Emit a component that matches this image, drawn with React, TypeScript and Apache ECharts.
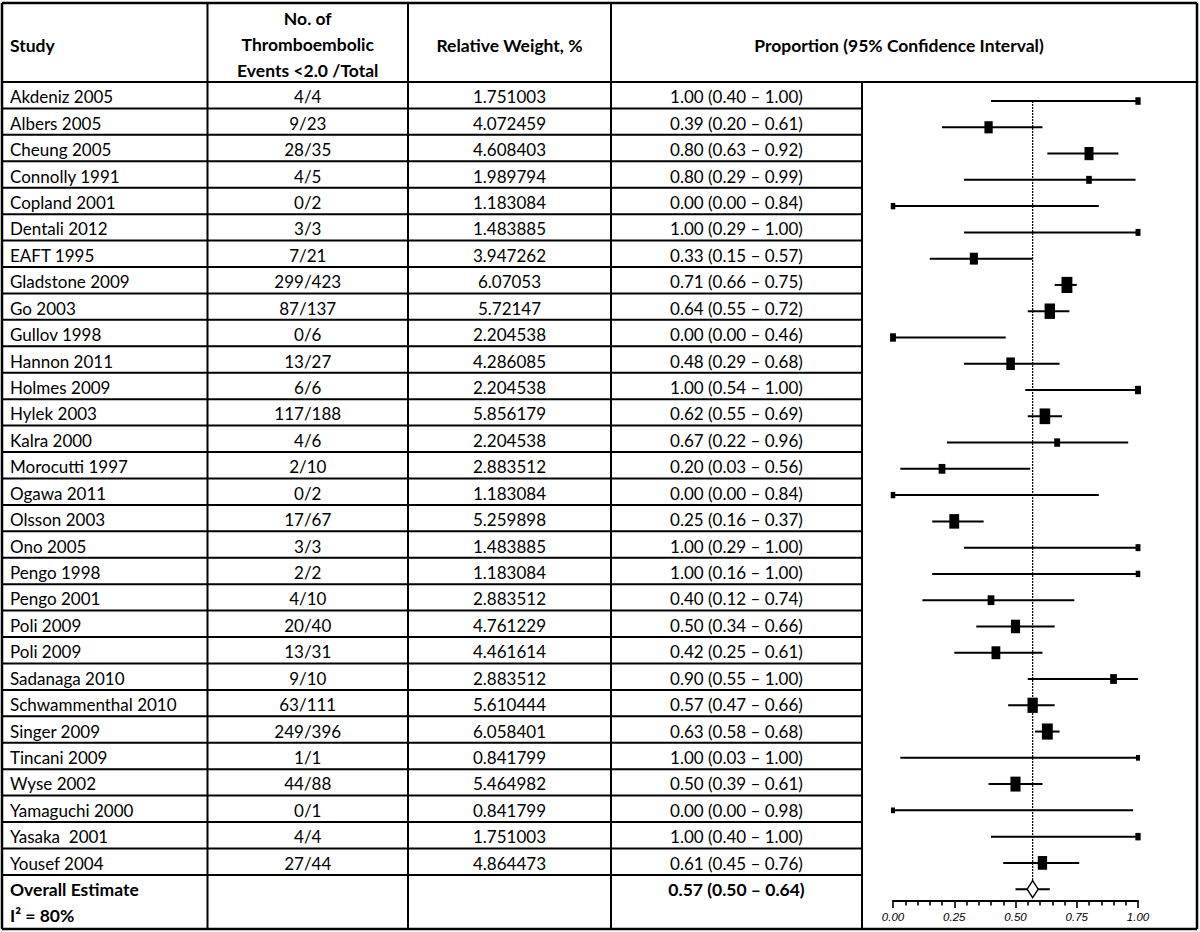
import React, { useEffect, useRef } from "react";
import * as echarts from "echarts";

const studies = [
  "Akdeniz 2005", "Albers 2005", "Cheung 2005", "Connolly 1991", "Copland 2001",
  "Dentali 2012", "EAFT 1995", "Gladstone 2009", "Go 2003", "Gullov 1998",
  "Hannon 2011", "Holmes 2009", "Hylek 2003", "Kalra 2000", "Morocutti 1997",
  "Ogawa 2011", "Olsson 2003", "Ono 2005", "Pengo 1998", "Pengo 2001",
  "Poli 2009", "Poli 2009", "Sadanaga 2010", "Schwammenthal 2010", "Singer 2009",
  "Tincani 2009", "Wyse 2002", "Yamaguchi 2000", "Yasaka  2001", "Yousef 2004",
];
const events = [4, 9, 28, 4, 0, 3, 7, 299, 87, 0, 13, 6, 117, 4, 2, 0, 17, 3, 2, 4, 20, 13, 9, 63, 249, 1, 44, 0, 4, 27];
const totals = [4, 23, 35, 5, 2, 3, 21, 423, 137, 6, 27, 6, 188, 6, 10, 2, 67, 3, 2, 10, 40, 31, 10, 111, 396, 1, 88, 1, 4, 44];
const weights = [
  1.751003, 4.072459, 4.608403, 1.989794, 1.183084, 1.483885, 3.947262, 6.07053, 5.72147, 2.204538,
  4.286085, 2.204538, 5.856179, 2.204538, 2.883512, 1.183084, 5.259898, 1.483885, 1.183084, 2.883512,
  4.761229, 4.461614, 2.883512, 5.610444, 6.058401, 0.841799, 5.464982, 0.841799, 1.751003, 4.864473,
];
const estimates = [1.0, 0.39, 0.8, 0.8, 0.0, 1.0, 0.33, 0.71, 0.64, 0.0, 0.48, 1.0, 0.62, 0.67, 0.2, 0.0, 0.25, 1.0, 1.0, 0.4, 0.5, 0.42, 0.9, 0.57, 0.63, 1.0, 0.5, 0.0, 1.0, 0.61];
const lower = [0.4, 0.2, 0.63, 0.29, 0.0, 0.29, 0.15, 0.66, 0.55, 0.0, 0.29, 0.54, 0.55, 0.22, 0.03, 0.0, 0.16, 0.29, 0.16, 0.12, 0.34, 0.25, 0.55, 0.47, 0.58, 0.03, 0.39, 0.0, 0.4, 0.45];
const upper = [1.0, 0.61, 0.92, 0.99, 0.84, 1.0, 0.57, 0.75, 0.72, 0.46, 0.68, 1.0, 0.69, 0.96, 0.56, 0.84, 0.37, 1.0, 1.0, 0.74, 0.66, 0.61, 1.0, 0.66, 0.68, 1.0, 0.61, 0.98, 1.0, 0.76];
const overallEst = 0.57;
const overallLo = 0.5;
const overallHi = 0.64;
const overallLabel = "Overall Estimate";
const heterogeneity = "I\u00b2 = 80%";
const xTicks = [0, 0.25, 0.5, 0.75, 1.0];

const FONT = "Lato, 'Open Sans', sans-serif";

export default function App() {
  const ref = useRef<HTMLDivElement>(null);
  useEffect(() => {
    if (!ref.current) return;
    const chart = echarts.init(ref.current, undefined, { renderer: "svg" });

    const X = [2, 207.5, 408, 611, 862, 1197];
    const TOP = 3;
    const HEAD = 82;
    const ROW = 26.43;
    const BOTTOM = 929;
    const n = studies.length;
    const lw = 2;
    const els: any[] = [];
    const ln = (x1: number, y1: number, x2: number, y2: number, w = lw) =>
      els.push({ type: "line", shape: { x1, y1, x2, y2 }, style: { stroke: "#000", lineWidth: w }, z: 10 });
    const tx = (text: string, x: number, y: number, align: string, bold = false) =>
      els.push({
        type: "text",
        x,
        y,
        style: {
          text,
          fill: "#000",
          fontFamily: FONT,
          fontSize: bold ? 17.5 : 17,
          fontWeight: bold ? "bold" : "normal",
          align,
          verticalAlign: "middle",
          textAlign: align,
          textVerticalAlign: "middle",
        },
        z: 10,
      });

    // outer border
    ln(X[0], TOP, X[5], TOP, 2.5);
    ln(X[0], BOTTOM, X[5], BOTTOM, 2.5);
    ln(X[0], TOP, X[0], BOTTOM, 2.5);
    ln(X[5], TOP, X[5], BOTTOM, 2.5);
    // verticals
    ln(X[1], TOP, X[1], BOTTOM);
    ln(X[2], TOP, X[2], BOTTOM);
    ln(X[3], TOP, X[3], BOTTOM);
    ln(X[4], HEAD, X[4], BOTTOM);
    // header bottom
    ln(X[0], HEAD, X[5], HEAD);
    for (let k = 1; k <= n; k++) {
      const y = HEAD + k * ROW;
      ln(X[0], y, X[4], y);
    }

    // headers
    tx("Study", 10, 45, "left", true);
    const c2 = (X[1] + X[2]) / 2;
    const c3 = (X[2] + X[3]) / 2;
    const c4 = (X[3] + X[4]) / 2;
    tx("No. of", c2, 18, "center", true);
    tx("Thromboembolic", c2, 44, "center", true);
    tx("Events <2.0 /Total", c2, 70, "center", true);
    tx("Relative Weight, %", c3, 45, "center", true);
    tx("Proportion (95% Confidence Interval)", (X[3] + X[5]) / 2 - 5, 45, "center", true);

    const fmt = (v: number) => v.toFixed(2);
    for (let i = 0; i < n; i++) {
      const y = HEAD + (i + 0.5) * ROW + 1.5;
      tx(studies[i], 10, y, "left");
      tx(`${events[i]}/${totals[i]}`, c2, y, "center");
      tx(String(weights[i]), c3, y, "center");
      tx(`${fmt(estimates[i])} (${fmt(lower[i])} \u2013 ${fmt(upper[i])})`, c4, y, "center");
    }
    const oy = HEAD + n * ROW;
    tx(overallLabel, 10, oy + 15, "left", true);
    tx(heterogeneity, 10, oy + 41, "left", true);
    tx(`${fmt(overallEst)} (${fmt(overallLo)} \u2013 ${fmt(overallHi)})`, c4, oy + 15, "center", true);

    const ciData = studies.map((_, i) => [lower[i], upper[i], i]);
    ciData.push([overallLo, overallHi, n]);
    const ptData = studies.map((_, i) => [estimates[i], i, weights[i]]);

    chart.setOption({
      animation: false,
      graphic: { elements: els },
      grid: { left: 893, right: 62, top: 87.9, bottom: 31 },
      xAxis: {
        type: "value",
        position: "bottom",
        min: xTicks[0],
        max: xTicks[xTicks.length - 1],
        interval: xTicks[1] - xTicks[0],
        axisLine: { show: true, onZero: false, lineStyle: { color: "#000", width: 2 } },
        axisTick: { show: true, length: 7, lineStyle: { color: "#000", width: 1.6 } },
        minorTick: { show: true, splitNumber: 5, length: 4.5, lineStyle: { color: "#000", width: 1.6 } },
        splitLine: { show: false },
        minorSplitLine: { show: false },
        axisLabel: {
          color: "#000",
          fontStyle: "italic",
          fontSize: 11.5,
          fontFamily: "'Liberation Sans', Arial, sans-serif",
          margin: 10,
          showMinLabel: true,
          showMaxLabel: true,
          formatter: (v: number) => v.toFixed(2),
        },
        z: 6,
      },
      yAxis: { type: "value", min: -0.5, max: 30.45, inverse: true, show: false },
      series: [
        {
          type: "line",
          data: [
            [overallEst, 0],
            [overallEst, n + 0.25],
          ],
          symbol: "none",
          lineStyle: { color: "#000", width: 1.2, type: [2, 1] },
          z: 2,
        },
        {
          type: "custom",
          data: ciData,
          encode: { x: [0, 1], y: 2 },
          renderItem: (params: any, api: any) => {
            const p1 = api.coord([api.value(0), api.value(2)]);
            const p2 = api.coord([api.value(1), api.value(2)]);
            return {
              type: "line",
              shape: { x1: p1[0], y1: p1[1], x2: p2[0], y2: p2[1] },
              style: { stroke: "#000", lineWidth: 2 },
            };
          },
          z: 3,
        },
        {
          type: "scatter",
          data: ptData,
          symbol: "rect",
          symbolSize: (val: number[]) => [3 + 1.3 * val[2], 4 + 2 * val[2]],
          itemStyle: { color: "#000", opacity: 1 },
          z: 4,
        },
        {
          type: "scatter",
          data: [[overallEst, n]],
          symbol: "diamond",
          symbolSize: [11, 17],
          itemStyle: { color: "#fff", borderColor: "#000", borderWidth: 1.5, opacity: 1 },
          z: 5,
        },
      ],
    });
    return () => chart.dispose();
  }, []);
  return <div ref={ref} style={{ position: "fixed", left: 0, top: 0, width: 1200, height: 932, background: "#fff" }} />;
}
